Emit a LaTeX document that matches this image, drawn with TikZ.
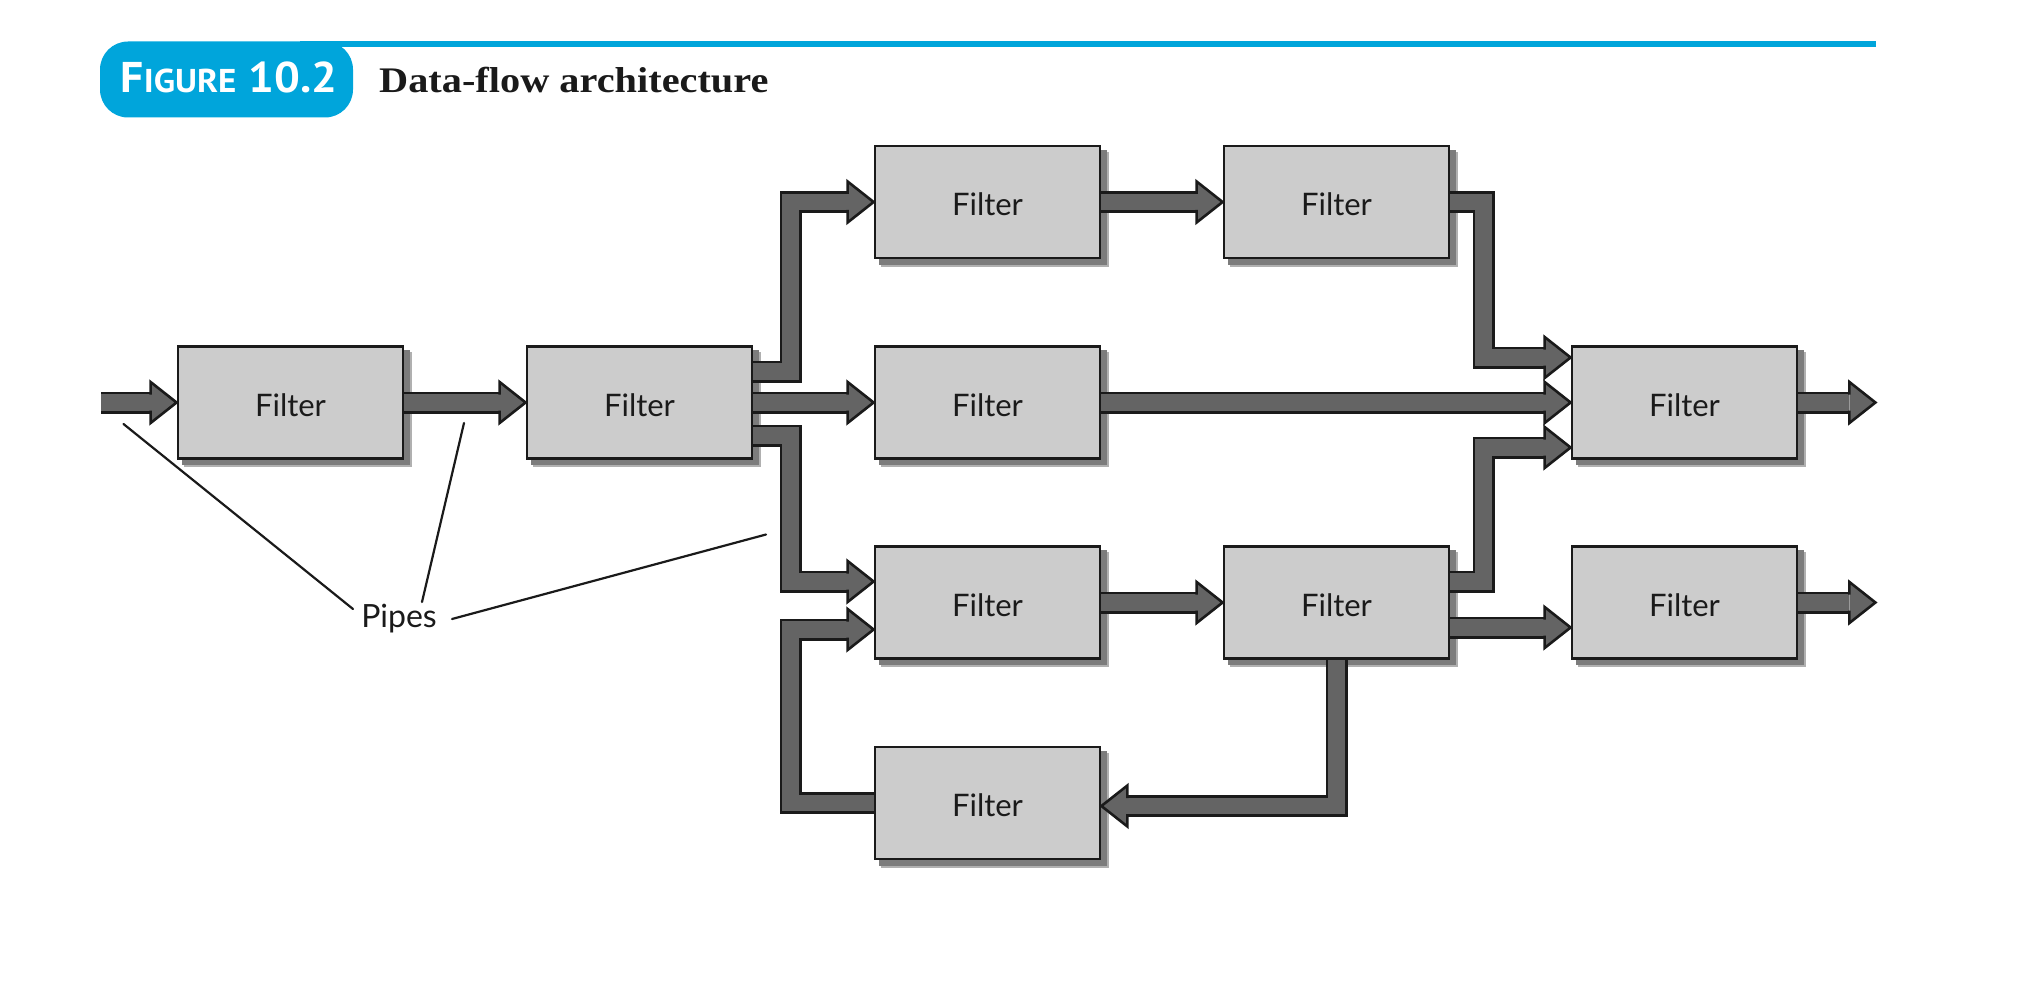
\documentclass[tikz,border=0pt]{standalone}
\usepackage{fontspec}
\setmainfont{Lato}
\newfontfamily\titlefont[FakeStretch=1.12]{Liberation Serif}
\newfontfamily\figfont[FakeStretch=1.06]{PT Sans}
\usetikzlibrary{calc}
\definecolor{pipegray}{HTML}{646464}
\definecolor{boxgray}{HTML}{CCCCCC}
\definecolor{figblue}{HTML}{00A5DB}
\definecolor{ink}{HTML}{1A1A1A}
\definecolor{shadowc}{HTML}{7C7C7C}
\pgfdeclarelayer{shadowlayer}
\pgfdeclarelayer{pipelayer}
\pgfsetlayers{shadowlayer,pipelayer,main}
\tikzset{
  filterbox/.style={rectangle, draw=ink, line width=2.8pt, fill=boxgray,
    minimum width=225pt, minimum height=112pt, inner sep=0pt,
    text height=27pt, text depth=0pt,
    font=\fontsize{31}{36}\selectfont, text=ink},
  pipeout/.style={line width=22pt, draw=ink, line join=miter, line cap=butt},
  pipein/.style={line width=16.5pt, draw=pipegray, line join=miter, line cap=butt},
  pics/headR/.style={code={\filldraw[fill=pipegray, draw=ink, line width=2.6pt, line join=miter]
    (-26,-8) -- (-26,-20.5) -- (0,0) -- (-26,20.5) -- (-26,8);}},
  leader/.style={draw=ink, line width=2.2pt, line cap=round},
}
\newcommand\pipe[1]{\draw[pipeout] #1; \draw[pipein] #1;}
\begin{document}
\begin{tikzpicture}[x=1pt,y=-1pt]
\useasboundingbox (0,0) rectangle (2039,1000);
% header
\draw[figblue, line width=6pt] (300,44.5) -- (1876,44.5);
\node[fill=figblue, rounded corners=28pt, minimum width=253pt, minimum height=76pt, inner sep=0pt] (figlabel) at (226.5,79.5) {};
\node[anchor=base, text=white, inner sep=0pt] (fignum) at (229,93)
  {\figfont\bfseries{\fontsize{43}{43}\selectfont F}{\fontsize{33}{33}\selectfont IGURE}\hspace{12pt}{\fontsize{43}{43}\selectfont 10.2}};
\node[anchor=base west, inner sep=0pt, text=ink] (title) at (379,93)
  {\titlefont\bfseries\fontsize{36}{40}\selectfont Data-flow architecture};
% filters
\node[filterbox] (A)   at (290.5,402.5) {Filter};
\node[filterbox] (B)   at (639.5,402.5) {Filter};
\node[filterbox] (F13) at (987.5,202) {Filter};
\node[filterbox] (F14) at (1336.5,202) {Filter};
\node[filterbox] (F23) at (987.5,402.5) {Filter};
\node[filterbox] (F25) at (1684.5,402.5) {Filter};
\node[filterbox] (F33) at (987.5,602.5) {Filter};
\node[filterbox] (F34) at (1336.5,602.5) {Filter};
\node[filterbox] (F35) at (1684.5,602.5) {Filter};
\node[filterbox] (F43) at (987.5,803) {Filter};
% shadows
\begin{pgfonlayer}{shadowlayer}
\foreach \n in {A,B,F13,F14,F23,F25,F33,F34,F35,F43}{
  \fill[shadowc!60] ($(\n.north west)+(7,7)$) rectangle ($(\n.south east)+(7.5,7.5)$);
  \fill[shadowc] ($(\n.north west)+(5,5)$) rectangle ($(\n.south east)+(5.5,5.5)$);
}
\end{pgfonlayer}
% coordinates
\coordinate (src) at (101,402.5);
\coordinate (out2) at ($(F25.east)+(77,0)$);
\coordinate (out3) at ($(F35.east)+(77,0)$);
\coordinate (in13) at (F13.west);
\coordinate (in33a) at ($(F33.west)+(0,-21)$);
\coordinate (in33b) at ($(F33.west)+(0,27)$);
\coordinate (in25a) at ($(F25.west)+(0,-45)$);
\coordinate (in25c) at ($(F25.west)+(0,45)$);
\coordinate (in35) at ($(F35.west)+(0,25)$);
\coordinate (in43) at ($(F43.east)+(0,3)$);
% pipes
\begin{pgfonlayer}{pipelayer}
\pipe{(src) -- ($(A.west)+(-26,0)$)} \pic at (A.west) {headR};
\pipe{(A.east) -- ($(B.west)+(-26,0)$)} \pic at (B.west) {headR};
\pipe{(B.east) -- ($(F23.west)+(-26,0)$)} \pic at (F23.west) {headR};
\pipe{($(B.east)+(0,-31)$) -| ($(in13)+(-83,0)$) -- ($(in13)+(-26,0)$)} \pic at (in13) {headR};
\pipe{($(B.east)+(0,33)$) -| ($(in33a)+(-83,0)$) -- ($(in33a)+(-26,0)$)} \pic at (in33a) {headR};
\pipe{(F13.east) -- ($(F14.west)+(-26,0)$)} \pic at (F14.west) {headR};
\pipe{(F14.east) -| ($(in25a)+(-87,0)$) -- ($(in25a)+(-26,0)$)} \pic at (in25a) {headR};
\pipe{(F23.east) -- ($(F25.west)+(-26,0)$)} \pic at (F25.west) {headR};
\pipe{($(F34.east)+(0,-21)$) -| ($(in25c)+(-87,0)$) -- ($(in25c)+(-26,0)$)} \pic at (in25c) {headR};
\pipe{($(F34.east)+(0,25)$) -- ($(in35)+(-26,0)$)} \pic at (in35) {headR};
\pipe{(F33.east) -- ($(F34.west)+(-26,0)$)} \pic at (F34.west) {headR};
\pipe{(F25.east) -- ($(out2)+(-26,0)$)} \pic at (out2) {headR};
\pipe{(F35.east) -- ($(out3)+(-26,0)$)} \pic at (out3) {headR};
\pipe{(F34.south) |- ($(in43)+(26,0)$)} \pic[rotate=180] at (in43) {headR};
\pipe{(F43.west) -| ($(in33b)+(-83,0)$) -- ($(in33b)+(-26,0)$)} \pic at (in33b) {headR};
\end{pgfonlayer}
% pipes label
\node[anchor=base, inner sep=0pt, font=\fontsize{32}{36}\selectfont, text=ink] (pipes) at (399,627) {Pipes};
\coordinate (l1a) at (353,609);
\coordinate (l1b) at (123.5,424);
\coordinate (l2a) at (422,602);
\coordinate (l2b) at (464,423);
\coordinate (l3a) at (452,619);
\coordinate (l3b) at (766,534.5);
\draw[leader] (l1a) -- (l1b);
\draw[leader] (l2a) -- (l2b);
\draw[leader] (l3a) -- (l3b);
\end{tikzpicture}
\end{document}
